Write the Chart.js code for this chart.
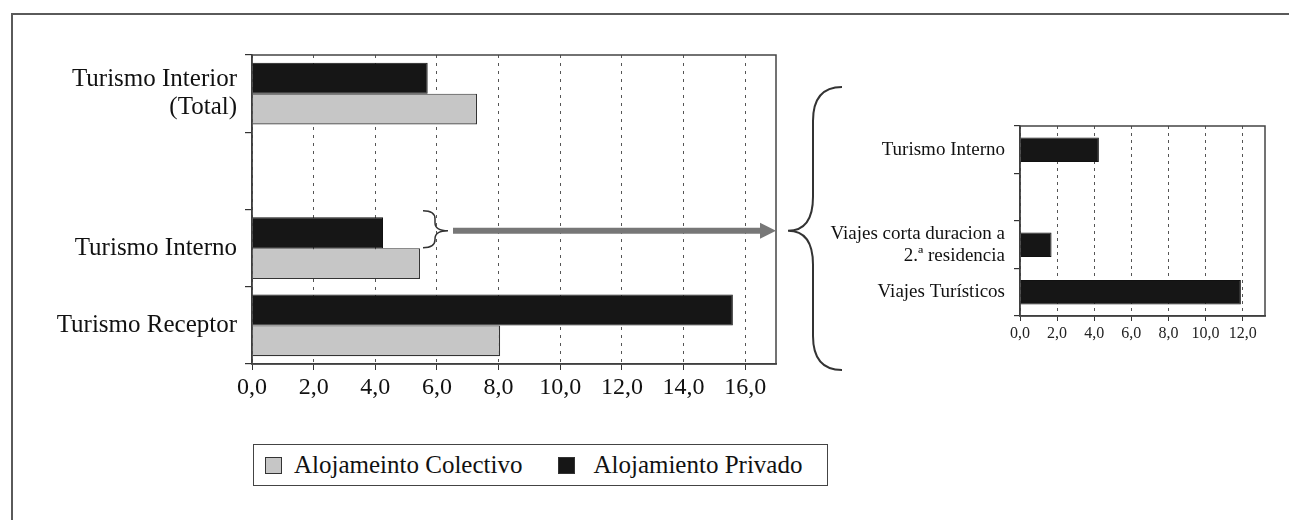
<!DOCTYPE html>
<html>
<head>
<meta charset="utf-8">
<script src="https://cdn.jsdelivr.net/npm/chart.js@4/dist/chart.umd.min.js"></script>
<style>
  html, body { margin: 0; padding: 0; background: #fff; }
  body { width: 1289px; height: 520px; position: relative; overflow: hidden; font-family: "Liberation Serif", "Times New Roman", serif; }
  .marco { position: absolute; left: 11px; top: 13px; width: 1300px; height: 520px; border-top: 2px solid #5a5a5a; border-left: 2px solid #5a5a5a; }
  #izq { position: absolute; left: 0; top: 0; }
  #der { position: absolute; left: 800px; top: 0; }
  #leyenda { position: absolute; left: 253px; top: 444px; width: 573px; height: 40px; border: 1.5px solid #444; display: flex; align-items: center; font-size: 25px; color: #111; }
  #leyenda .it { display: flex; align-items: center; margin-left: 11px; margin-right: 36px; }
  #leyenda .it + .it { margin-left: 0; margin-right: 0; }
  #leyenda .sw { width: 15px; height: 15px; border: 1.5px solid #333; margin-right: 12px; }
  #leyenda .it + .it .sw { margin-right: 18px; }
</style>
</head>
<body>
<div class="marco"></div>
<canvas id="izq" width="850" height="420"></canvas>
<canvas id="der" width="489" height="400"></canvas>
<div id="leyenda"></div>
<script>
/* datos */
const categoriasIzq = [["Turismo Interior", "(Total)"], "", "Turismo Interno", "Turismo Receptor"];
const privado = [5.7, null, 4.25, 15.6];
const colectivo = [7.3, null, 5.45, 8.05];

const categoriasDer = ["Turismo Interno", "", ["Viajes corta duracion a", "2.ª residencia"], "Viajes Turísticos"];
const privadoDesglose = [4.25, null, 1.7, 11.9];

const nombreColectivo = "Alojameinto Colectivo";
const nombrePrivado = "Alojamiento Privado";

const FUENTE = "'Liberation Serif', 'Times New Roman', serif";
const fmt = v => Number(v).toFixed(1).replace(".", ",");

// marco del área de trazado (arriba y derecha)
const marcoArea = {
  id: "marcoArea",
  afterDraw(c) {
    const a = c.chartArea, ctx = c.ctx;
    ctx.save(); ctx.strokeStyle = "#444"; ctx.lineWidth = 1.5;
    ctx.strokeRect(a.left, a.top, a.right - a.left, a.bottom - a.top);
    ctx.restore();
  }
};

function llave(ctx, xEnd, xMid, xTip, yTop, yTip, yBot, r) {
  ctx.beginPath();
  ctx.moveTo(xEnd, yTop);
  ctx.quadraticCurveTo(xMid, yTop, xMid, yTop + r);
  ctx.lineTo(xMid, yTip - r);
  ctx.quadraticCurveTo(xMid, yTip, xTip, yTip);
  ctx.quadraticCurveTo(xMid, yTip, xMid, yTip + r);
  ctx.lineTo(xMid, yBot - r);
  ctx.quadraticCurveTo(xMid, yBot, xEnd, yBot);
  ctx.stroke();
}

// llave pequeña, flecha y llave grande
const anotaciones = {
  id: "anotaciones",
  afterDraw(c) {
    const ctx = c.ctx, a = c.chartArea;
    const bar = c.getDatasetMeta(0).data[2];
    const yc = bar.y - 2;
    ctx.save();
    ctx.strokeStyle = "#333"; ctx.lineWidth = 1.5;
    llave(ctx, 423, 435, 448, yc - 20, yc, yc + 17, 8);
    // flecha
    ctx.strokeStyle = "#777"; ctx.fillStyle = "#777"; ctx.lineWidth = 6;
    ctx.beginPath(); ctx.moveTo(453, yc); ctx.lineTo(a.right - 14, yc); ctx.stroke();
    ctx.beginPath(); ctx.moveTo(a.right - 16, yc - 8); ctx.lineTo(a.right, yc); ctx.lineTo(a.right - 16, yc + 8); ctx.closePath(); ctx.fill();
    // llave grande
    ctx.strokeStyle = "#333"; ctx.lineWidth = 2;
    llave(ctx, 842, 813, 788, 87, yc, 370, 34);
    ctx.restore();
  }
};

const izq = new Chart(document.getElementById("izq"), {
  type: "bar",
  data: { labels: categoriasIzq, datasets: [
    { label: nombrePrivado, data: privado, backgroundColor: "#161616", borderColor: "#111", borderWidth: 1, categoryPercentage: 0.8, barPercentage: 1.0 },
    { label: nombreColectivo, data: colectivo, backgroundColor: "#c6c6c6", borderColor: "#333", borderWidth: 1.2, categoryPercentage: 0.8, barPercentage: 1.0 }
  ] },
  options: {
    indexAxis: "y", responsive: false, animation: false, devicePixelRatio: 1,
    layout: { padding: { top: 55, right: 74, left: 0, bottom: 0 } },
    plugins: { legend: { display: false }, tooltip: { enabled: false } },
    scales: {
      x: { min: 0, max: 17, ticks: { stepSize: 2, includeBounds: false, color: "#111", padding: 3, font: { family: FUENTE, size: 24 }, callback: v => fmt(v) },
           grid: { color: "#555", lineWidth: 1, tickLength: 6, tickColor: "#333" },
           border: { color: "#333", width: 1.5, dash: [3, 5] },
           afterFit: s => { s.height = 56; } },
      y: { ticks: { color: "#111", padding: 8, font: { family: FUENTE, size: 25, lineHeight: 1.12 } },
           grid: { drawOnChartArea: false, tickLength: 7, color: "#333", lineWidth: 1.2 },
           border: { color: "#333", width: 1.5 },
           afterFit: s => { s.width = 252; } }
    }
  },
  plugins: [marcoArea, anotaciones]
});

new Chart(document.getElementById("der"), {
  type: "bar",
  data: { labels: categoriasDer, datasets: [
    { label: nombrePrivado, data: privadoDesglose, backgroundColor: "#161616", borderColor: "#111", borderWidth: 1, categoryPercentage: 0.52, barPercentage: 1.0 }
  ] },
  options: {
    indexAxis: "y", responsive: false, animation: false, devicePixelRatio: 1,
    layout: { padding: { top: 126, right: 24, left: 0, bottom: 0 } },
    plugins: { legend: { display: false }, tooltip: { enabled: false } },
    scales: {
      x: { min: 0, max: 13.2, ticks: { stepSize: 2, includeBounds: false, color: "#222", padding: 3, font: { family: FUENTE, size: 16 }, callback: v => fmt(v) },
           grid: { color: "#555", lineWidth: 1, tickLength: 5, tickColor: "#333" },
           border: { color: "#333", width: 1.5, dash: [3, 4] },
           afterFit: s => { s.height = 84; } },
      y: { ticks: { color: "#111", padding: 9, font: { family: FUENTE, size: 19, lineHeight: 1.15 } },
           grid: { drawOnChartArea: false, tickLength: 6, color: "#333", lineWidth: 1.2 },
           border: { color: "#333", width: 1.5 },
           afterFit: s => { s.width = 220; } }
    }
  },
  plugins: [marcoArea]
});

// leyenda en el orden del original
const ley = document.getElementById("leyenda");
[izq.data.datasets[1], izq.data.datasets[0]].forEach(ds => {
  const it = document.createElement("div"); it.className = "it";
  const sw = document.createElement("div"); sw.className = "sw"; sw.style.background = ds.backgroundColor;
  const tx = document.createElement("span"); tx.textContent = ds.label;
  it.appendChild(sw); it.appendChild(tx); ley.appendChild(it);
});
</script>
</body>
</html>
